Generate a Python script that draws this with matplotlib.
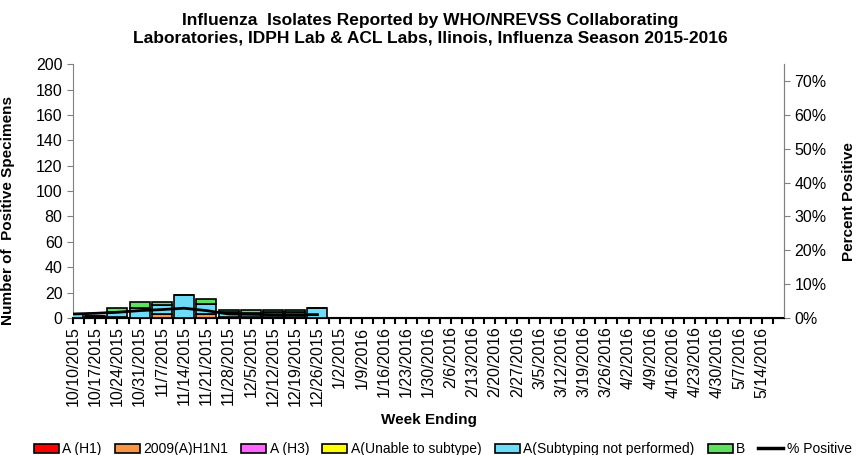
import matplotlib
matplotlib.use("Agg")
import matplotlib.pyplot as plt
from matplotlib.patches import Patch
from matplotlib.lines import Line2D
import numpy as np

plt.rcParams["font.family"] = ["Liberation Sans", "DejaVu Sans"]

# ── Data ─────────────────────────────────────────────────────────────────────
weeks = ["10/10/2015", "10/17/2015", "10/24/2015", "10/31/2015", "11/7/2015",
         "11/14/2015", "11/21/2015", "11/28/2015", "12/5/2015", "12/12/2015",
         "12/19/2015", "12/26/2015", "1/2/2015", "1/9/2016", "1/16/2016",
         "1/23/2016", "1/30/2016", "2/6/2016", "2/13/2016", "2/20/2016",
         "2/27/2016", "3/5/2016", "3/12/2016", "3/19/2016", "3/26/2016",
         "4/2/2016", "4/9/2016", "4/16/2016", "4/23/2016", "4/30/2016",
         "5/7/2016", "5/14/2016"]

# counts for the weeks reported so far (10/10/2015 .. 12/26/2015)
a_h1      = [0, 0, 0, 0, 0, 0, 0, 0, 0, 0, 0, 0]
h1n1_2009 = [0, 0, 1, 0, 3, 0, 3, 1, 1, 1, 1, 0]
a_h3      = [0, 1, 0, 0, 0, 0, 0, 0, 0, 0, 0, 0]
a_unable  = [0, 0, 0, 0, 0, 0, 0, 0, 0, 0, 0, 0]
a_notperf = [3, 1, 4, 8, 7, 18, 8, 4, 3, 4, 4, 8]
b_flu     = [0, 0, 3, 5, 3, 0, 4, 1, 2, 1, 1, 0]
pct_pos   = [1.2, 1.4, 1.7, 2.2, 2.5, 2.9, 2.2, 1.2, 1.1, 1.0, 1.0, 1.0]

series = [
    ("A (H1)", a_h1, "#ff0000"),
    ("2009(A)H1N1", h1n1_2009, "#f79646"),
    ("A (H3)", a_h3, "#ff66ff"),
    ("A(Unable to subtype)", a_unable, "#ffff00"),
    ("A(Subtyping not performed)", a_notperf, "#6fdcf7"),
    ("B", b_flu, "#5fe05f"),
]

fig = plt.figure(figsize=(8.58, 4.55), dpi=100)
ax = fig.add_axes([0.0851, 0.301, 0.8287, 0.558])

x = np.arange(len(a_h1))
bottom = np.zeros(len(x))
for label, vals, color in series:
    vals = np.array(vals, dtype=float)
    ax.bar(x, vals, width=0.9, bottom=bottom, color=color,
           edgecolor="black", linewidth=1.2, zorder=3)
    bottom += vals

ax.set_xlim(0, 32)
ax.set_ylim(0, 200)
ax.set_yticks(np.arange(0, 201, 20))
ax.set_xticks(np.arange(len(weeks)))
ax.set_xticklabels(weeks, rotation=90, fontsize=11.5)
ax.set_xticks(np.arange(0.5, 32, 1.0), minor=True)
ax.tick_params(axis="x", which="both", length=4, width=1.5, color="black", pad=2)
ax.tick_params(axis="y", labelsize=11.5, length=4, color="#808080")

ax.spines["top"].set_visible(False)
for s in ["left", "right"]:
    ax.spines[s].set_color("#808080")
ax.spines["bottom"].set_color("black")
ax.spines["bottom"].set_linewidth(1.5)

ax.set_ylabel("Number of  Positive Specimens", fontsize=11, fontweight="bold")
ax.yaxis.set_label_coords(-0.0816, 0.425)
ax.set_xlabel("Week Ending", fontsize=11, fontweight="bold", labelpad=5)

ax2 = ax.twinx()
ax2.plot(x, pct_pos, color="black", linewidth=2.0, zorder=4)
ax2.set_ylim(0, 75)
ax2.set_yticks(np.arange(0, 71, 10))
ax2.set_yticklabels([f"{v}%" for v in range(0, 71, 10)], fontsize=11.5)
ax2.tick_params(axis="y", length=4, color="#808080")
ax2.spines["top"].set_visible(False)
ax2.spines["right"].set_color("#808080")
ax2.spines["left"].set_visible(False)
fig.text(0.990, 0.558, "Percent Positive", rotation=90, ha="center",
         va="center", fontsize=11, fontweight="bold")

fig.suptitle("Influenza  Isolates Reported by WHO/NREVSS Collaborating\n"
             "Laboratories, IDPH Lab & ACL Labs, Ilinois, Influenza Season 2015-2016",
             x=0.502, y=0.972, fontsize=12.5, fontweight="bold", linespacing=1.25)

handles = [Patch(facecolor=c, edgecolor="black", linewidth=1.2, label=l)
           for l, _, c in series]
handles.append(Line2D([0], [0], color="black", linewidth=2.5, label="% Positive"))
fig.legend(handles=handles, loc="lower center", bbox_to_anchor=(0.516, -0.03),
           ncol=7, frameon=False, fontsize=10, handlelength=1.8,
           handleheight=0.6, handletextpad=0.25, columnspacing=0.95)

fig.savefig("out.png", dpi=100)
